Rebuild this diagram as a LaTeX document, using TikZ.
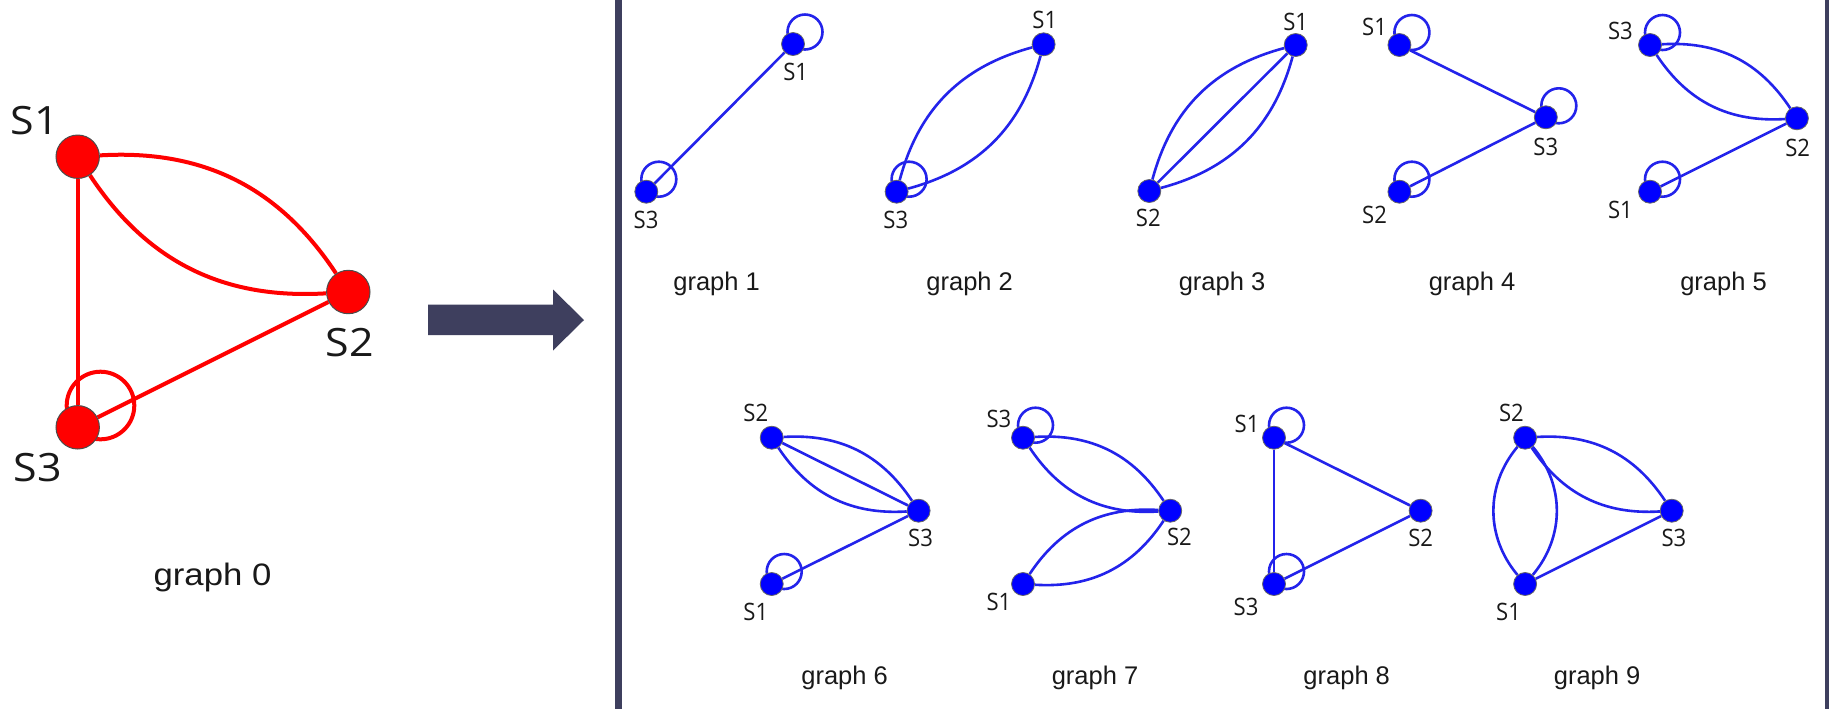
\documentclass[tikz,border=0pt]{standalone}
\usepackage{fontspec}
\setmainfont{Liberation Sans}
\newfontfamily\slab{Open Sans}
\usetikzlibrary{calc}
\pgfdeclarelayer{back}
\pgfdeclarelayer{bg}
\pgfsetlayers{back,bg,main}
\definecolor{slate}{HTML}{3E3F5E}
\definecolor{edgeblue}{RGB}{35,35,235}
\definecolor{nodeblue}{RGB}{0,0,255}
\definecolor{nodered}{RGB}{255,0,0}
\begin{document}
\begin{tikzpicture}[x=0.5pt,y=-0.5pt,
  rnode/.style={circle,fill=nodered,draw=black!70,line width=0.5pt,minimum size=21.7pt,inner sep=0pt},
  bnode/.style={circle,fill=nodeblue,draw=black!60,line width=0.4pt,minimum size=11.5pt,inner sep=0pt},
  redge/.style={draw=nodered,line width=2pt},
  bedge/.style={draw=edgeblue,line width=1.3pt},
  rlab/.style={font=\slab\fontsize{19.5}{22}\selectfont,inner sep=0pt,text=black!90,xscale=1.1},
  blab/.style={font=\slab\fontsize{12}{14}\selectfont,inner sep=0pt,text=black!90,xscale=0.92},
  gtitle/.style={font=\fontsize{12.75}{15}\selectfont,anchor=base,inner sep=0pt,text=black!90},
]
\useasboundingbox (0,0) rectangle (1829,709);
\begin{pgfonlayer}{back}
\fill[white] (0,0) rectangle (1829,709);
\end{pgfonlayer}

% frame lines and arrow
\fill[slate] (615,0) rectangle (621.6,709);
\fill[slate] (1825,0) rectangle (1829,709);
\fill[slate] (428,304.5) -- (553,304.5) -- (553,289.5) -- (584,320) -- (553,350.5) -- (553,335) -- (428,335) -- cycle;

% ---------- graph 0 ----------
\node[rnode] (r1) at (77.7,156.7) {};
\node[rnode] (r2) at (348.3,292) {};
\node[rnode] (r3) at (77.7,427.3) {};
\node[rlab] (r1l) at (35,121) {S1};
\node[rlab] (r2l) at (350,343) {S2};
\node[rlab] (r3l) at (38,468) {S3};
\node[gtitle,xscale=1.12] (t0) at (212.5,585) {\fontsize{15.5}{18}\selectfont graph 0};
\begin{pgfonlayer}{bg}
  \draw[redge] (r1) -- (r3);
  \draw[redge] (r3) -- (r2);
  \draw[redge] (r1) to[bend left=30] (r2);
  \draw[redge] (r1) to[bend right=30] (r2);
  \draw[redge] ($(r3)+(22.8,-21.8)$) circle[radius=16.9pt];
\end{pgfonlayer}

% ---------- graph 1 ----------
\node[bnode] (a1) at (793,44) {};
\node[bnode] (a3) at (646.3,191.7) {};
\node[blab] at (795.7,71.7) {S1};
\node[blab] at (646,220) {S3};
\node[gtitle] (t1) at (716.6,290) {graph 1};
\begin{pgfonlayer}{bg}
  \draw[bedge] (a1) -- (a3);
  \draw[bedge] ($(a1)+(12,-12)$) circle[radius=8.75pt];
  \draw[bedge] ($(a3)+(12.5,-12.5)$) circle[radius=8.75pt];
\end{pgfonlayer}

% ---------- graph 2 ----------
\node[bnode] (b1) at (1043.6,44.3) {};
\node[bnode] (b3) at (896.6,191.7) {};
\node[blab] at (1044.8,20) {S1};
\node[blab] at (895.8,220) {S3};
\node[gtitle] (t2) at (969.7,290) {graph 2};
\begin{pgfonlayer}{bg}
  \draw[bedge] (b1) to[bend left=30] (b3);
  \draw[bedge] (b1) to[bend right=30] (b3);
  \draw[bedge] ($(b3)+(12.5,-12.5)$) circle[radius=8.75pt];
\end{pgfonlayer}

% ---------- graph 3 ----------
\node[bnode] (c1) at (1295.7,45) {};
\node[bnode] (c2) at (1149.3,191) {};
\node[blab] at (1295.7,21.7) {S1};
\node[blab] at (1148.3,218.3) {S2};
\node[gtitle] (t3) at (1222,290) {graph 3};
\begin{pgfonlayer}{bg}
  \draw[bedge] (c1) -- (c2);
  \draw[bedge] (c1) to[bend left=30] (c2);
  \draw[bedge] (c1) to[bend right=30] (c2);
\end{pgfonlayer}

% ---------- graph 4 ----------
\node[bnode] (d1) at (1399.4,45) {};
\node[bnode] (d3) at (1545.8,117.3) {};
\node[bnode] (d2) at (1399.4,191.7) {};
\node[blab] at (1374.5,26.7) {S1};
\node[blab] at (1545.8,146.7) {S3};
\node[blab] at (1374.5,215) {S2};
\node[gtitle] (t4) at (1472,290) {graph 4};
\begin{pgfonlayer}{bg}
  \draw[bedge] (d1) -- (d3);
  \draw[bedge] (d2) -- (d3);
  \draw[bedge] ($(d1)+(12.5,-12.5)$) circle[radius=8.75pt];
  \draw[bedge] ($(d3)+(13,-11.5)$) circle[radius=8.75pt];
  \draw[bedge] ($(d2)+(12.5,-12.5)$) circle[radius=8.75pt];
\end{pgfonlayer}

% ---------- graph 5 ----------
\node[bnode] (e3) at (1650,45) {};
\node[bnode] (e2) at (1796.9,118.3) {};
\node[bnode] (e1) at (1650,191.7) {};
\node[blab] at (1620.4,30.7) {S3};
\node[blab] at (1797.7,148.3) {S2};
\node[blab] at (1620.4,210) {S1};
\node[gtitle] (t5) at (1723.5,290) {graph 5};
\begin{pgfonlayer}{bg}
  \draw[bedge] (e3) to[bend left=30] (e2);
  \draw[bedge] (e3) to[bend right=30] (e2);
  \draw[bedge] (e1) -- (e2);
  \draw[bedge] ($(e3)+(12.5,-12.5)$) circle[radius=8.75pt];
  \draw[bedge] ($(e1)+(12.5,-12.5)$) circle[radius=8.75pt];
\end{pgfonlayer}

% ---------- graph 6 ----------
\node[bnode] (f2) at (771.7,437.7) {};
\node[bnode] (f3) at (918.6,510.7) {};
\node[bnode] (f1) at (771.7,584) {};
\node[blab] at (755.8,413.3) {S2};
\node[blab] at (920.5,538.3) {S3};
\node[blab] at (755.8,611.7) {S1};
\node[gtitle] (t6) at (844.6,684) {graph 6};
\begin{pgfonlayer}{bg}
  \draw[bedge] (f2) -- (f3);
  \draw[bedge] (f2) to[bend left=30] (f3);
  \draw[bedge] (f2) to[bend right=30] (f3);
  \draw[bedge] (f1) -- (f3);
  \draw[bedge] ($(f1)+(12.5,-12.5)$) circle[radius=8.75pt];
\end{pgfonlayer}

% ---------- graph 7 ----------
\node[bnode] (g3) at (1023,437.7) {};
\node[bnode] (g2) at (1170.2,510.7) {};
\node[bnode] (g1) at (1023,584) {};
\node[blab] at (998.9,419.3) {S3};
\node[blab] at (1179.4,536.7) {S2};
\node[blab] at (998.9,601.7) {S1};
\node[gtitle] (t7) at (1095,684) {graph 7};
\begin{pgfonlayer}{bg}
  \draw[bedge] (g3) to[bend left=30] (g2);
  \draw[bedge] (g3) to[bend right=30] (g2);
  \draw[bedge] (g1) to[bend left=30] (g2);
  \draw[bedge] (g1) to[bend right=30] (g2);
  \draw[bedge] ($(g3)+(12.5,-12.5)$) circle[radius=8.75pt];
\end{pgfonlayer}

% ---------- graph 8 ----------
\node[bnode] (h1) at (1274,437.7) {};
\node[bnode] (h2) at (1420.6,510.7) {};
\node[bnode] (h3) at (1274,584) {};
\node[blab] at (1247,424) {S1};
\node[blab] at (1420.6,538.3) {S2};
\node[blab] at (1246,606.6) {S3};
\node[gtitle] (t8) at (1346.7,684) {graph 8};
\begin{pgfonlayer}{bg}
  \draw[bedge] (h1) -- (h3);
  \draw[bedge] (h1) -- (h2);
  \draw[bedge] (h3) -- (h2);
  \draw[bedge] ($(h1)+(12.5,-12.5)$) circle[radius=8.75pt];
  \draw[bedge] ($(h3)+(12.5,-12.5)$) circle[radius=8.75pt];
\end{pgfonlayer}

% ---------- graph 9 ----------
\node[bnode] (k2) at (1525.1,437.7) {};
\node[bnode] (k3) at (1671.7,510.7) {};
\node[bnode] (k1) at (1525.1,584) {};
\node[blab] at (1511.4,413.3) {S2};
\node[blab] at (1673.9,538.3) {S3};
\node[blab] at (1508.5,611.7) {S1};
\node[gtitle] (t9) at (1597.1,684) {graph 9};
\begin{pgfonlayer}{bg}
  \draw[bedge] (k2) to[bend left=40] (k1);
  \draw[bedge] (k2) to[bend right=40] (k1);
  \draw[bedge] (k2) to[bend left=30] (k3);
  \draw[bedge] (k2) to[bend right=30] (k3);
  \draw[bedge] (k1) -- (k3);
\end{pgfonlayer}
\end{tikzpicture}
\end{document}
